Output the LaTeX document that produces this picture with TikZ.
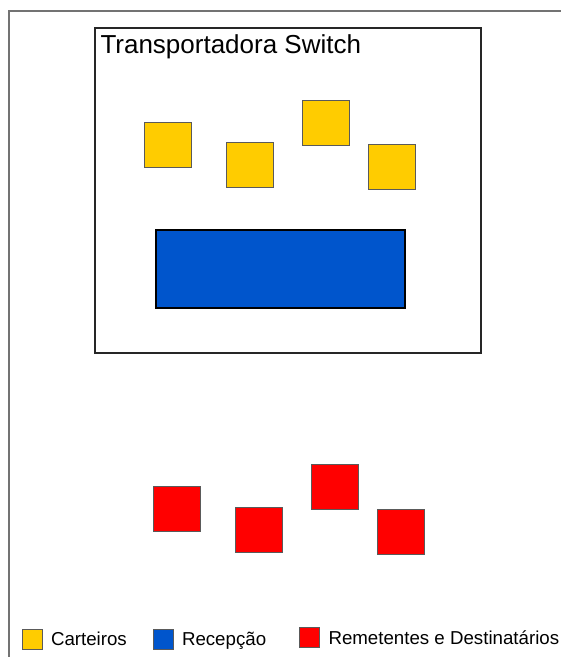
\documentclass[tikz,border=0pt]{standalone}
\usepackage{fontspec}
\setmainfont{Liberation Sans}
\usetikzlibrary{positioning}
\definecolor{camarelo}{HTML}{FFCC00}
\definecolor{cazul}{HTML}{0055CC}
\definecolor{cvermelho}{HTML}{FF0000}
\definecolor{cborda}{HTML}{5A5A5A}
\tikzset{
  every picture/.style={line width=1pt},
  quadrado/.style={draw=cborda, fill=#1, minimum width=47pt, minimum height=45pt, inner sep=0pt},
  carteiro/.style={quadrado=camarelo},
  remetente/.style={quadrado=cvermelho},
  recepcao/.style={draw=black, fill=cazul, line width=2pt, minimum width=249pt, minimum height=78pt, inner sep=0pt},
  caixa/.style={draw=black!85, line width=1.6pt, minimum width=386pt, minimum height=325pt, inner sep=0pt},
  legenda/.style={draw=cborda, fill=#1, minimum size=20pt, inner sep=0pt},
  rotulo/.style={font=\fontsize{18.7}{22}\selectfont, inner sep=0pt, text height=13.4pt, text depth=0pt},
  titulo/.style={font=\fontsize{26}{30}\selectfont, inner sep=0pt},
}

\begin{document}
\begin{tikzpicture}[x=1pt, y=-1pt]
  \useasboundingbox (0,0) rectangle (561,657);
  % moldura
  \draw[black!55, line width=1.5pt] (9,657) -- (9,11) -- (561,11);
  % transportadora
  \node[caixa] (switch) at (288,190.5) {};
  \node[titulo, anchor=base west] (nome) at (100,53) {Transportadora Switch};
  \foreach \x/\y/\n in {167.5/144.5/1, 249.5/165/2, 325.5/123/3, 391.5/167/4}
    \node[carteiro] (c\n) at (\x,\y) {};
  \node[recepcao] (rec) at (280.5,269) {};
  % remetentes e destinatarios
  \foreach \x/\y/\n in {176.5/508.5/1, 258.5/529.5/2, 334.5/487/3, 400.5/531.5/4}
    \node[remetente] (r\n) at (\x,\y) {};
  % legenda
  \node[legenda=camarelo] (lc) at (32,639) {};
  \node[rotulo, right=8pt of lc] (tc) {Carteiros};
  \node[legenda=cazul] (lb) at (163,639) {};
  \node[rotulo, right=8pt of lb] (tb) {Recepção};
  \node[legenda=cvermelho] (lr) at (309.5,637.5) {};
  \node[rotulo, right=8pt of lr] (tr) {Remetentes e Destinatários};
\end{tikzpicture}
\end{document}
